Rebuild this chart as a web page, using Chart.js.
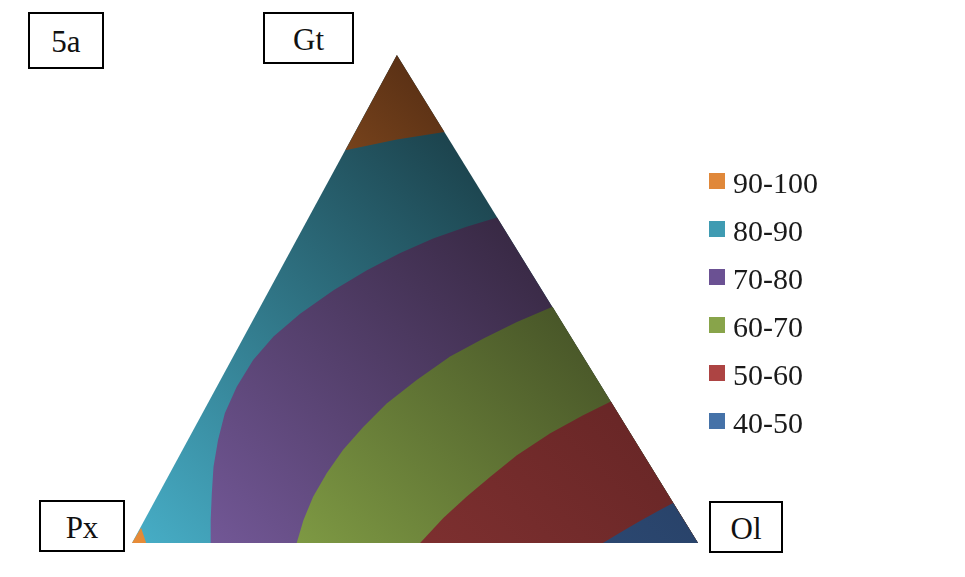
<!DOCTYPE html>
<html>
<head>
<meta charset="utf-8">
<script src="https://cdn.jsdelivr.net/npm/chart.js@4"></script>
<style>
  body { margin: 0; background: #fff; }
  #wrap { position: relative; width: 965px; height: 577px; background: #fff; overflow: hidden; }
  #c { position: absolute; left: 0; top: 0; }
  .box { position: absolute; box-sizing: border-box; border: 2px solid #000; background: #fff;
         text-align: center; font-family: 'Liberation Serif', serif; font-size: 31px; color: #111; }
  .lg-sw { position: absolute; width: 16px; height: 16px; }
  .lg-tx { position: absolute; font-family: 'Liberation Serif', serif; font-size: 30px; line-height: 30px; color: #1a1a1a; white-space: nowrap; }
</style>
</head>
<body>
<div id="wrap">
  <canvas id="c" width="965" height="577"></canvas>
  <div class="box" style="left:28px;top:12px;width:76px;height:57px;padding-top:2px;line-height:51px">5a</div>
  <div class="box" style="left:263px;top:12px;width:91px;height:52px;padding-top:4px;line-height:44px">Gt</div>
  <div class="box" style="left:39px;top:500px;width:86px;height:52px;padding-top:4px;line-height:44px">Px</div>
  <div class="box" style="left:709px;top:501px;width:74px;height:52px;padding-top:3px;line-height:45px">Ol</div>
  <div id="legend"></div>
</div>
<script>
// ===================================
// Ternary contour (Gt - Px - Ol), figure 5a
// x: 0 = Px corner, 100 = Ol corner; y: 0 = base, 100 = Gt apex
// ===================================

const categories = ['90-100', '80-90', '70-80', '60-70', '50-60', '40-50'];

// triangle corners
const pxCorner = [0, 0];
const olCorner = [100, 0];
const gtCorner = [46.8, 100];

// contour boundaries (right edge -> base)
const bound90top = [[37.7, 80.5], [46.8, 82.7], [55.2, 84.2]];
const bound90corner = [[1.6, 3.1], [2.5, 0]];
const bound80 = [[64.5, 66.7], [59.1, 64.8], [53.2, 62.4], [47.3, 59.4], [41.5, 55.9], [35.6, 51.8],
                 [29.7, 47.0], [25.0, 42.3], [21.4, 37.5], [18.5, 32.0], [16.4, 26.6], [15.2, 21.1],
                 [14.4, 15.6], [14.1, 10.2], [13.9, 4.7], [13.9, 0]];
const bound70 = [[74.3, 48.4], [68.0, 45.3], [62.1, 41.9], [56.2, 38.2], [50.3, 33.4], [45.0, 28.6],
                 [40.9, 23.8], [37.3, 19.1], [34.4, 14.3], [32.0, 9.5], [30.3, 4.7], [29.1, 0]];
const bound60 = [[84.6, 29.0], [79.7, 26.2], [73.9, 22.5], [68.0, 18.0], [63.3, 13.6], [59.1, 9.5],
                 [55.0, 5.1], [50.9, 0]];
const bound50 = [[95.6, 8.2], [92.7, 6.4], [89.6, 4.4], [86.5, 2.3], [83.2, 0]];

// colours
const legendColors = ['#e0883a', '#3f9bb2', '#6b5193', '#88a44a', '#ad4443', '#4572a8'];
const lightShade = ['#e88c38', '#47aec7', '#795da0', '#8faf4c', '#8e3737', '#36598a'];
const darkShade  = ['#472410', '#142f36', '#281c2d', '#323a1d', '#5a2020', '#22385a'];

function toPoints(list) {
    return list.map(p => ({ x: p[0], y: p[1] }));
}

// gradient imitating the lighting of the 3D surface
function shade(i) {
    return function(context) {
        const chart = context.chart;
        if (!chart.chartArea) return legendColors[i];
        const xs = chart.scales.x, ys = chart.scales.y;
        const g = chart.ctx.createLinearGradient(
            xs.getPixelForValue(0), ys.getPixelForValue(0),
            xs.getPixelForValue(75), ys.getPixelForValue(90));
        g.addColorStop(0, lightShade[i]);
        g.addColorStop(1, darkShade[i]);
        return g;
    };
}

function layer(label, pts, i, order) {
    return {
        label: label,
        data: toPoints(pts),
        order: order,
        showLine: true,
        fill: 'shape',
        borderWidth: 0,
        pointRadius: 0,
        backgroundColor: shade(i)
    };
}

// higher order is painted first (underneath)
const datasets = [
    layer(categories[1], [pxCorner, olCorner, gtCorner], 1, 7),
    layer(categories[2], bound80.concat([olCorner]), 2, 6),
    layer(categories[3], bound70.concat([olCorner]), 3, 5),
    layer(categories[4], bound60.concat([olCorner]), 4, 4),
    layer(categories[5], bound50.concat([olCorner]), 5, 3),
    layer(categories[0], bound90top.concat([gtCorner]), 0, 2),
    layer(categories[0], [pxCorner].concat(bound90corner), 0, 1)
];

new Chart(document.getElementById('c'), {
    type: 'scatter',
    data: { datasets: datasets },
    options: {
        responsive: false,
        animation: false,
        events: [],
        layout: { padding: { left: 132, right: 267, top: 55, bottom: 34 } },
        plugins: {
            legend: { display: false },
            tooltip: { enabled: false }
        },
        scales: {
            x: { type: 'linear', min: 0, max: 100, display: false },
            y: { type: 'linear', min: 0, max: 100, display: false }
        }
    }
});

// legend
const legendEl = document.getElementById('legend');
categories.forEach((cat, i) => {
    const sw = document.createElement('div');
    sw.className = 'lg-sw';
    sw.style.left = '709px';
    sw.style.top = (173 + i * 48) + 'px';
    sw.style.background = legendColors[i];
    legendEl.appendChild(sw);

    const tx = document.createElement('div');
    tx.className = 'lg-tx';
    tx.style.left = '733px';
    tx.style.top = (168 + i * 48) + 'px';
    tx.textContent = cat;
    legendEl.appendChild(tx);
});
</script>
</body>
</html>
